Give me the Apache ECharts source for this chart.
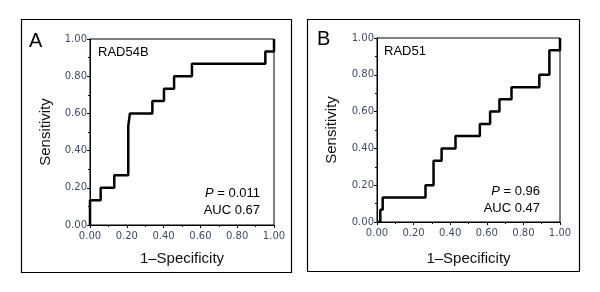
<!DOCTYPE html>
<html lang="en">
<head>
  <meta charset="UTF-8">
  <script type="text/javascript" src="https://cdn.jsdelivr.net/npm/echarts@6/dist/echarts.min.js"></script>
  <title>ROC RAD54B / RAD51</title>
  <style type="text/css">
    * { margin: 0; padding: 0; }
    html, body { width: 100%; height: 100%; background-color: #fff; }
    #chart { width: 600px; height: 292px; }
  </style>
</head>
<body>
<div id="chart"></div>
</body>
<script type="text/javascript">
  // ROC 曲线顶点 (1-特异度, 灵敏度)
  var fprA = [0, 0, 0.058, 0.132, 0.208, 0.217, 0.339, 0.402, 0.457, 0.554, 0.953, 1]
  var tprA = [0, 0.133, 0.2, 0.267, 0.533, 0.6, 0.667, 0.733, 0.8, 0.867, 0.933, 1]
  var fprB = [0, 0.018, 0.018, 0.031, 0.265, 0.309, 0.353, 0.429, 0.562, 0.618, 0.669, 0.735, 0.887, 0.942, 1]
  var tprB = [0, 0, 0.067, 0.133, 0.2, 0.333, 0.4, 0.467, 0.533, 0.6, 0.667, 0.733, 0.8, 0.933, 1]
  var panelNames = ['RAD54B', 'RAD51']
  var panelLetters = ['A', 'B']
  var pTexts = ['0.011', '0.96']
  var aucTexts = ['AUC 0.67', 'AUC 0.47']

  function zip(xs, ys) {
    return xs.map(function (x, i) { return [x, ys[i]] })
  }

  var labelColor = '#3d4c6c'
  var font = 'Liberation Sans'

  function makeAxis(idx, name, gap, isX) {
    return {
      type: 'value',
      gridIndex: idx,
      min: 0,
      max: 1,
      interval: 0.2,
      name: name,
      nameLocation: 'middle',
      nameGap: gap,
      nameTextStyle: { color: '#111', fontSize: 15, fontFamily: font },
      axisLine: { show: true, lineStyle: { color: '#000', width: 1 } },
      axisTick: { show: true, length: 3, lineStyle: { color: '#000' } },
      minorTick: { show: true, splitNumber: 2, length: 2, lineStyle: { color: '#000' } },
      splitLine: { show: false },
      axisLabel: {
        color: labelColor,
        fontSize: 10,
        fontFamily: 'DejaVu Sans',
        margin: isX ? 6 : 3,
        formatter: function (v) { return v.toFixed(2) }
      }
    }
  }

  var grids = [
    { left: 90, top: 39, width: 184, height: 186 },
    { left: 377, top: 38, width: 183, height: 184 }
  ]
  grids.forEach(function (g) { g.show = true; g.borderColor = '#000'; g.borderWidth = 1; g.backgroundColor = 'transparent' })

  var myChart = echarts.init(document.getElementById('chart'))
  var option = {
    animation: false,
    grid: grids,
    xAxis: [makeAxis(0, '1–Specificity', 26, true), makeAxis(1, '1–Specificity', 29, true)],
    yAxis: [makeAxis(0, 'Sensitivity', 37, false), makeAxis(1, 'Sensitivity', 38, false)],
    series: [
      {
        type: 'line', xAxisIndex: 0, yAxisIndex: 0, step: 'end', symbol: 'none',
        lineStyle: { color: '#000', width: 2.5 }, data: zip(fprA, tprA)
      },
      {
        type: 'line', xAxisIndex: 1, yAxisIndex: 1, step: 'end', symbol: 'none',
        lineStyle: { color: '#000', width: 2.5 }, data: zip(fprB, tprB)
      }
    ],
    graphic: [
      { type: 'rect', shape: { x: 21.5, y: 19.5, width: 270, height: 253 }, style: { fill: 'none', stroke: '#000', lineWidth: 1.2 } },
      { type: 'rect', shape: { x: 307.5, y: 19.5, width: 272, height: 252 }, style: { fill: 'none', stroke: '#000', lineWidth: 1.2 } },
      { type: 'text', left: 29, top: 31, style: { text: panelLetters[0], font: '20px "Liberation Sans"', fill: '#000' } },
      { type: 'text', left: 317, top: 29, style: { text: panelLetters[1], font: '20px "Liberation Sans"', fill: '#000' } },
      { type: 'text', left: 98, top: 46, style: { text: panelNames[0], font: '13px "Liberation Sans"', fill: '#000' } },
      { type: 'text', left: 384, top: 45, style: { text: panelNames[1], font: '13px "Liberation Sans"', fill: '#000' } },
      { type: 'text', right: 340, top: 187, style: {
          text: '{i|P} = ' + pTexts[0], font: '13px "Liberation Sans"', fill: '#000',
          rich: { i: { fontStyle: 'italic', fontSize: 13, fontFamily: font } } } },
      { type: 'text', right: 340, top: 204, style: { text: aucTexts[0], font: '13px "Liberation Sans"', fill: '#000' } },
      { type: 'text', right: 60, top: 185, style: {
          text: '{i|P} = ' + pTexts[1], font: '13px "Liberation Sans"', fill: '#000',
          rich: { i: { fontStyle: 'italic', fontSize: 13, fontFamily: font } } } },
      { type: 'text', right: 60, top: 202, style: { text: aucTexts[1], font: '13px "Liberation Sans"', fill: '#000' } }
    ]
  };
  myChart.setOption(option);
</script>
</html>
